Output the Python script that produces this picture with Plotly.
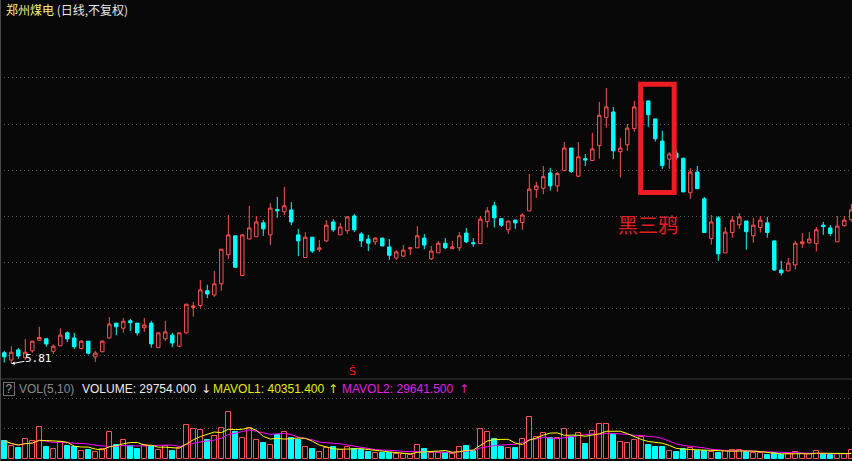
import plotly.graph_objects as go
import pandas as pd

# ---------------- data ----------------
open_ = [6.05, 5.89, 6.11, 5.94, 6.09, 6.32, 6.35, 6.08, 6.20, 6.48,
         6.37, 6.14, 6.30, 5.96, 6.07, 6.37, 6.69, 6.58, 6.74, 6.69,
         6.59, 6.69, 6.16, 6.35, 6.43, 6.19, 6.48, 7.03, 7.07, 7.39,
         7.30, 7.54, 8.17, 8.58, 7.72, 8.51, 8.56, 8.86, 8.60, 9.15,
         9.10, 9.14, 8.60, 8.11, 8.55, 8.28, 8.47, 8.88, 8.60, 8.69,
         9.01, 8.62, 8.51, 8.45, 8.53, 8.34, 8.10, 8.14, 8.30, 8.32,
         8.53, 8.08, 8.21, 8.42, 8.30, 8.32, 8.64, 8.43, 8.41, 8.89,
         9.23, 8.95, 8.71, 8.92, 8.87, 9.12, 9.58, 9.61, 9.94, 9.66,
         9.99, 10.48, 9.87, 10.25, 10.21, 10.53, 11.14, 11.26, 10.40, 10.55,
         10.90, 10.98, 11.50, 11.11, 10.63, 10.24, 10.37, 10.26, 9.51, 9.96,
         9.38, 8.52, 8.97, 8.21, 8.65, 8.82, 8.90, 8.58, 8.76, 8.86,
         8.47, 7.84, 7.82, 7.95, 8.41, 8.43, 8.41, 8.81, 8.75, 8.45,
         8.80, 8.93]
high = [6.09, 6.19, 6.15, 6.35, 6.30, 6.61, 6.37, 6.23, 6.58, 6.51,
        6.48, 6.32, 6.30, 6.09, 6.32, 6.82, 6.69, 6.80, 6.78, 6.69,
        6.80, 6.74, 6.48, 6.74, 6.48, 6.48, 7.10, 7.15, 7.62, 7.52,
        7.82, 8.29, 9.03, 8.58, 8.62, 9.23, 9.01, 8.92, 9.29, 9.42,
        9.64, 9.31, 8.73, 8.66, 8.55, 8.49, 8.92, 8.94, 8.86, 9.01,
        9.05, 8.66, 8.60, 8.55, 8.53, 8.51, 8.27, 8.38, 8.32, 8.79,
        8.62, 8.36, 8.47, 8.53, 8.47, 8.66, 8.75, 8.53, 9.01, 9.20,
        9.32, 8.95, 8.90, 8.92, 9.07, 9.92, 9.75, 10.09, 10.05, 9.96,
        10.61, 10.48, 10.61, 10.35, 10.81, 11.48, 11.78, 11.37, 10.70, 11.00,
        11.50, 11.63, 11.50, 11.11, 10.85, 10.39, 10.44, 10.26, 10.05, 10.09,
        9.42, 9.03, 9.01, 8.77, 9.01, 9.07, 8.90, 8.97, 9.01, 8.99,
        8.47, 8.04, 8.10, 8.47, 8.64, 8.66, 8.77, 8.88, 8.81, 9.01,
        9.01, 9.27]
low = [5.84, 5.81, 5.92, 5.89, 6.05, 6.31, 6.18, 6.02, 6.20, 6.28,
       6.13, 6.12, 6.01, 5.85, 6.07, 6.35, 6.43, 6.48, 6.52, 6.42,
       6.50, 6.16, 6.16, 6.30, 6.17, 6.17, 6.46, 6.83, 7.02, 7.23,
       7.26, 7.39, 8.08, 7.88, 7.72, 8.51, 8.56, 8.58, 8.38, 8.97,
       9.03, 8.81, 8.14, 8.11, 8.21, 8.23, 8.45, 8.66, 8.60, 8.62,
       8.66, 8.34, 8.25, 8.38, 8.36, 8.06, 8.06, 8.12, 8.16, 8.32,
       8.29, 8.06, 8.21, 8.29, 8.30, 8.25, 8.42, 8.34, 8.41, 8.76,
       8.76, 8.77, 8.62, 8.73, 8.71, 9.12, 9.40, 9.48, 9.56, 9.53,
       9.99, 9.94, 9.85, 10.09, 10.21, 10.25, 10.92, 10.24, 9.84, 10.42,
       10.83, 10.87, 10.94, 10.62, 10.03, 10.03, 10.22, 9.53, 9.38, 9.60,
       8.65, 8.39, 8.04, 8.21, 8.54, 8.73, 8.28, 8.43, 8.65, 8.54,
       7.82, 7.72, 7.82, 7.85, 8.32, 8.41, 8.24, 8.60, 8.58, 8.45,
       8.78, 8.89]
close = [5.96, 6.06, 5.98, 6.06, 6.30, 6.38, 6.24, 6.19, 6.43, 6.35,
         6.18, 6.30, 6.04, 6.04, 6.30, 6.67, 6.61, 6.73, 6.70, 6.48,
         6.65, 6.24, 6.48, 6.50, 6.26, 6.48, 7.10, 7.06, 7.41, 7.32,
         7.54, 8.29, 8.60, 7.90, 8.60, 8.75, 8.88, 8.73, 9.18, 9.12,
         9.23, 8.88, 8.47, 8.55, 8.25, 8.32, 8.81, 8.71, 8.77, 8.99,
         8.71, 8.47, 8.42, 8.53, 8.36, 8.16, 8.23, 8.27, 8.32, 8.58,
         8.38, 8.25, 8.42, 8.32, 8.34, 8.58, 8.45, 8.41, 8.94, 9.12,
         8.97, 8.81, 8.90, 8.86, 9.03, 9.59, 9.66, 9.86, 9.66, 9.93,
         10.48, 9.97, 10.29, 10.22, 10.46, 11.19, 11.37, 10.42, 10.48, 10.91,
         11.37, 11.52, 11.20, 10.68, 10.10, 10.35, 10.27, 9.53, 9.96, 9.60,
         8.65, 8.88, 8.19, 8.66, 8.92, 8.99, 8.67, 8.81, 8.92, 8.65,
         7.84, 7.78, 7.99, 8.42, 8.45, 8.51, 8.71, 8.78, 8.63, 8.79,
         8.92, 9.14]
volume = [58700, 42700, 35200, 64000, 58700, 102400, 39500, 32000, 55500, 42700,
          40500, 26700, 29900, 23500, 32000, 87500, 44800, 60800, 42700, 34100,
          44800, 42700, 29900, 42700, 26700, 35200, 109900, 97100, 93900, 60800,
          74700, 100300, 150400, 87500, 67200, 99200, 61900, 51200, 44800, 77900,
          87500, 68300, 61900, 40500, 33100, 23500, 35200, 38400, 29900, 38400,
          34100, 29900, 24500, 21300, 21300, 21300, 16000, 16000, 12800, 44800,
          32000, 21300, 21300, 21300, 16000, 40500, 42700, 27700, 96000, 86400,
          64000, 38400, 35200, 35200, 64000, 134400, 70400, 83200, 67200, 67200,
          96000, 72500, 83200, 49100, 89600, 113100, 113100, 77900, 55500, 51200,
          61900, 70400, 45900, 39500, 39500, 26700, 23500, 32000, 35200, 26700,
          26700, 23500, 21300, 27700, 29900, 29900, 24500, 19200, 19200, 13900,
          21300, 13900, 16000, 23500, 16000, 16000, 26700, 16000, 13900, 16000,
          16000, 29900]

title_name = "郑州煤电"
title_mode = "(日线,不复权)"
vol_header = ["VOL(5,10)", "VOLUME: 29754.000", "MAVOL1: 40351.400", "MAVOL2: 29641.500"]
pattern_label = "黑三鸦"
price_grid = [6, 7, 8, 9, 10, 11, 12]
vol_grid = [99000, 195000]

# ---------------- style ----------------
BG = "#080808"
RED = "#ff5252"
CYAN = "#00ffff"
YEL = "#ffff00"
MAG = "#ff00ff"
GRID = "#5a5a5a"
W, H = 852, 461
SPLIT = 1 - 379 / H   # paper y of the separator between price and volume panes

x = list(range(len(close)))
up = [c >= o for o, c in zip(open_, close)]
vs = pd.Series(volume, dtype=float)
ma5 = vs.rolling(5, min_periods=1).mean()
ma10 = vs.rolling(10, min_periods=1).mean()

fig = go.Figure()
fig.add_trace(go.Candlestick(
    x=x, open=open_, high=high, low=low, close=close,
    increasing=dict(line=dict(color=RED, width=1), fillcolor=BG),
    decreasing=dict(line=dict(color=CYAN, width=1), fillcolor=CYAN),
    whiskerwidth=0, hoverinfo="skip", xaxis="x", yaxis="y"))

fig.add_trace(go.Bar(
    x=x, y=volume, width=0.7, xaxis="x", yaxis="y2",
    marker=dict(color=[BG if u else CYAN for u in up],
                line=dict(color=[RED if u else CYAN for u in up], width=1)),
    hoverinfo="skip"))
fig.add_trace(go.Scatter(x=x, y=ma10, mode="lines", line=dict(color=MAG, width=1),
                         xaxis="x", yaxis="y2", hoverinfo="skip"))
fig.add_trace(go.Scatter(x=x, y=ma5, mode="lines", line=dict(color=YEL, width=1),
                         xaxis="x", yaxis="y2", hoverinfo="skip"))

# pixel helpers for layout placement
def px_x(p):
    return p / W

def px_y(p):
    return 1 - p / H

xr0 = -4.3 / 7
xr1 = (W - 4.3) / 7
fig.update_layout(
    width=W, height=H, margin=dict(l=0, r=0, t=0, b=0),
    paper_bgcolor=BG, plot_bgcolor=BG, showlegend=False,
    bargap=0,
    xaxis=dict(range=[xr0, xr1], domain=[0, 1], anchor="y2", visible=False,
               rangeslider=dict(visible=False), fixedrange=True),
    yaxis=dict(domain=[SPLIT, 1], range=[6 + (355 - 379) / 46.2, 6 + 355 / 46.2],
               tickvals=price_grid, showticklabels=False, showgrid=True,
               gridcolor=GRID, griddash="1px,3px", gridwidth=1,
               zeroline=False, showline=False, fixedrange=True),
    yaxis2=dict(domain=[0, SPLIT], range=[-5440, 256960],
                tickvals=vol_grid, showticklabels=False, showgrid=True,
                gridcolor=GRID, griddash="1px,3px", gridwidth=1,
                zeroline=False, showline=False, fixedrange=True),
)

shapes = [
    dict(type="line", xref="paper", yref="paper", x0=0, x1=1, y0=SPLIT, y1=SPLIT,
         line=dict(color="#3a3a3a", width=1)),
    dict(type="line", xref="paper", yref="paper", x0=px_x(0.5), x1=px_x(0.5), y0=0, y1=1,
         line=dict(color="#4a4a4a", width=1)),
    # black-three-crows highlight box
    dict(type="rect", xref="x", yref="y", x0=90.9, x1=95.7, y0=9.52, y1=11.86,
         line=dict(color="#ee1c24", width=5), fillcolor="rgba(0,0,0,0)", layer="above"),
]
fig.update_layout(shapes=shapes)

ann = []
ann.append(dict(xref="paper", yref="paper", x=px_x(4), y=px_y(10), xanchor="left", yanchor="middle",
                text=f"<span style='color:#f4f07c'>{title_name}</span> <span style='color:#e6e6e6'>{title_mode}</span>",
                showarrow=False, font=dict(family="Noto Sans CJK SC", size=12)))
# volume header
hdr_font = "Liberation Sans, Arial"
ann.append(dict(xref="paper", yref="paper", x=px_x(9), y=px_y(388.5), xanchor="center", yanchor="middle",
                text="?", showarrow=False, width=10, height=12, borderpad=0,
                bordercolor="#707070", borderwidth=1,
                font=dict(family=hdr_font, size=12, color="#9a9a9a")))
items = [
    (18, vol_header[0], "#8a8a8a"),
    (81, vol_header[1], "#ececec"),
    (200, "↓", "#ececec"),
    (212, vol_header[2], "#e8e800"),
    (327, "↑", "#e8e800"),
    (341, vol_header[3], "#e020e0"),
    (458, "↑", "#e020e0"),
]
for xp, t, col in items:
    ann.append(dict(xref="paper", yref="paper", x=px_x(xp), y=px_y(388.5), xanchor="left",
                    yanchor="middle", text=t, showarrow=False, borderpad=0,
                    font=dict(family=hdr_font if t not in ("↑", "↓") else "DejaVu Sans",
                              size=12, color=col)))
# lowest price marker
imin = min(range(len(low)), key=lambda i: low[i])
ann.append(dict(xref="x", yref="y", x=imin, y=low[imin], text=f"{low[imin]:.2f}",
                showarrow=True, arrowhead=2, arrowsize=0.7, arrowwidth=1, arrowcolor="#ffffff",
                ax=27, ay=-5, standoff=0, borderpad=0,
                font=dict(family="DejaVu Sans Mono", size=11, color="#ffffff")))
# sell signal marker
ann.append(dict(xref="paper", yref="paper", x=px_x(352), y=px_y(371.5), xanchor="center",
                yanchor="middle", text="Ṡ", showarrow=False,
                font=dict(family="DejaVu Sans", size=11, color="#ff1a1a")))
# pattern label
ann.append(dict(xref="paper", yref="paper", x=px_x(648), y=px_y(224.5), xanchor="center",
                yanchor="middle", text=pattern_label, showarrow=False,
                font=dict(family="Noto Sans CJK SC", size=20, color="#e41e1e")))
fig.update_layout(annotations=ann)

fig.write_html("out.html", config={"displayModeBar": False})
